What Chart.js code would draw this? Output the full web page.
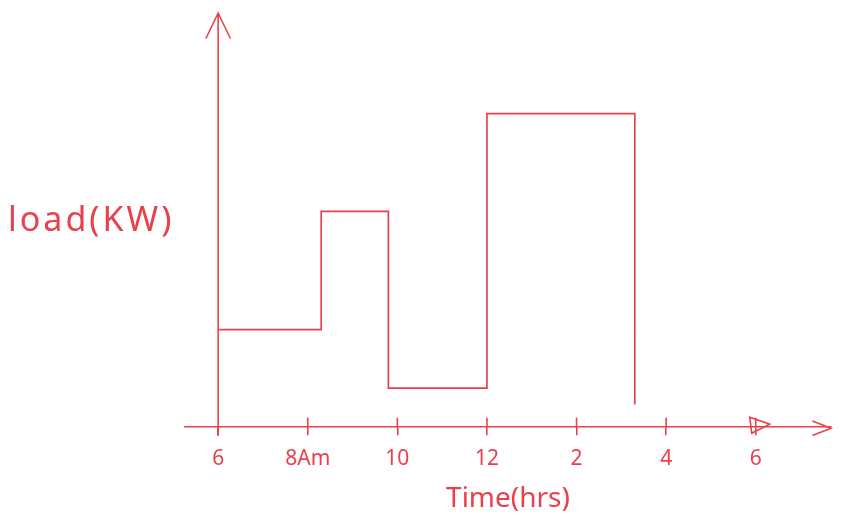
<!DOCTYPE html>
<html>
<head>
<meta charset="utf-8">
<script src="https://cdn.jsdelivr.net/npm/chart.js@4"></script>
<style>
  html, body { margin: 0; padding: 0; background: #fff; }
  #wrap { width: 841px; height: 530px; }
</style>
</head>
<body>
<div id="wrap"><canvas id="loadChart"></canvas></div>
<script>
// hours of day (6 = 6 am, 18 = 6 pm)
const stepTimes = [6, 8.3, 9.8, 12, 15.3];
const stepLoads = [95, 210, 38, 305, 22];
const tickHours = [6, 8, 10, 12, 14, 16, 18];
const tickLabels = ["6", "8Am", "10", "12", "2", "4", "6"];

const RED = "#e8414b";
const FONT = "'Noto Sans', sans-serif";

// arrow heads, crossing tick marks and the horizontal y label
const sketchAxes = {
  id: "sketchAxes",
  afterDraw(chart) {
    const { ctx, chartArea, scales } = chart;
    const x0 = scales.x.getPixelForValue(6);
    const yBase = scales.y.getPixelForValue(0);
    ctx.save();
    ctx.strokeStyle = RED;
    ctx.lineWidth = 1.6;
    ctx.lineCap = "round";
    // y axis arrow
    ctx.beginPath();
    ctx.moveTo(x0, yBase + 8);
    ctx.lineTo(x0, chartArea.top - 3);
    ctx.moveTo(x0 - 12, chartArea.top + 22);
    ctx.lineTo(x0, chartArea.top - 3);
    ctx.lineTo(x0 + 12, chartArea.top + 22);
    // x axis arrow
    ctx.moveTo(chartArea.right - 18, yBase - 6);
    ctx.lineTo(chartArea.right, yBase + 1);
    ctx.lineTo(chartArea.right - 18, yBase + 8);
    // short ticks above the axis
    tickHours.slice(1).forEach(h => {
      const px = scales.x.getPixelForValue(h);
      ctx.moveTo(px, yBase - 9);
      ctx.lineTo(px, yBase);
    });
    ctx.stroke();
    // small triangle at the last tick
    const pEnd = scales.x.getPixelForValue(18);
    ctx.beginPath();
    ctx.moveTo(pEnd - 6, yBase - 10);
    ctx.lineTo(pEnd + 14, yBase - 3);
    ctx.lineTo(pEnd - 4, yBase + 6);
    ctx.closePath();
    ctx.stroke();
    // y label, written horizontally
    ctx.fillStyle = RED;
    ctx.font = "34px " + FONT;
    ctx.letterSpacing = "3px";
    ctx.textBaseline = "middle";
    ctx.fillText("load(KW)", 8, scales.y.getPixelForValue(200));
    ctx.restore();
  }
};

const ctx = document.getElementById("loadChart").getContext("2d");
new Chart(ctx, {
  type: "line",
  data: {
    datasets: [
      {
        label: "Load",
        data: stepTimes.map((t, i) => ({ x: t, y: stepLoads[i] })),
        borderColor: RED,
        borderWidth: 1.7,
        pointRadius: 0,
        stepped: true,
        fill: false,
      },
    ],
  },
  options: {
    responsive: true,
    maintainAspectRatio: false,
    animation: false,
    layout: { padding: { left: 185, right: 10, top: 16, bottom: 10 } },
    plugins: {
      legend: { display: false },
      tooltip: { enabled: false },
    },
    scales: {
      x: {
        type: "linear",
        min: 5.26,
        max: 19.68,
        afterBuildTicks: (scale) => {
          scale.ticks = tickHours.map(v => ({ value: v }));
        },
        ticks: {
          color: RED,
          font: { family: FONT, size: 21 },
          padding: 11,
          maxRotation: 0,
          callback: (v) => tickLabels[tickHours.indexOf(v)],
        },
        grid: {
          drawOnChartArea: false,
          color: RED,
          tickLength: 8,
          lineWidth: 1.6,
        },
        border: { color: RED, width: 1.6 },
        title: {
          display: true,
          text: "Time(hrs)",
          color: RED,
          font: { family: FONT, size: 28 },
          padding: { top: 0 },
        },
      },
      y: {
        position: { x: 6 },
        min: 0,
        max: 400,
        ticks: { display: false },
        grid: { display: false },
        border: { display: false },
      },
    },
  },
  plugins: [sketchAxes],
});
</script>
</body>
</html>
